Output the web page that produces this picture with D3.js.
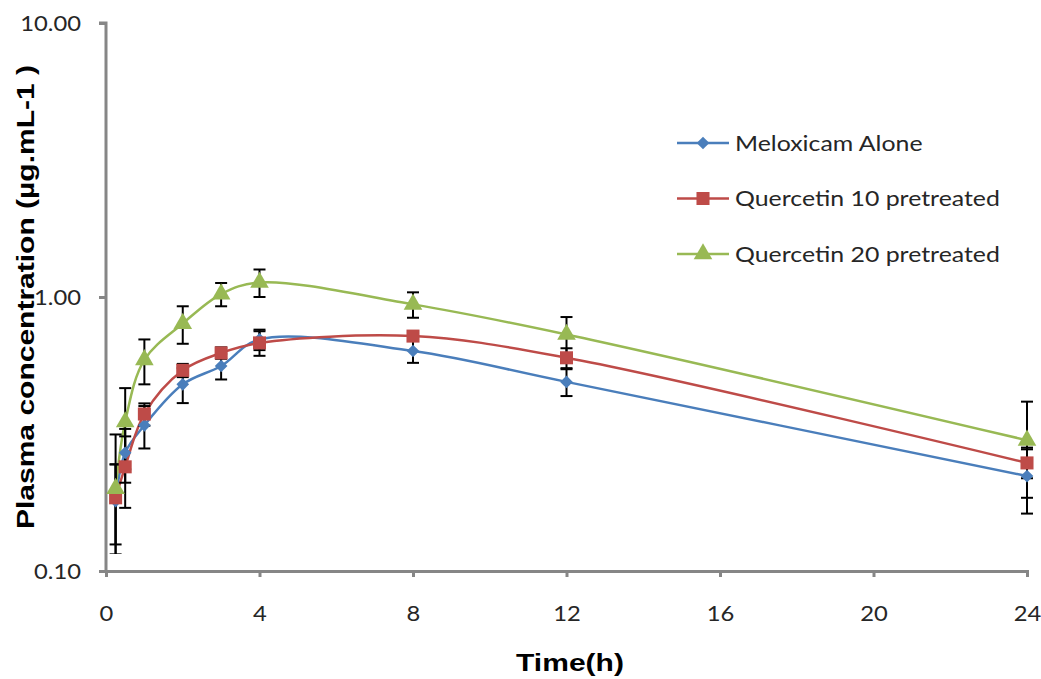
<!DOCTYPE html>
<html>
<head>
<meta charset="utf-8">
<script src="https://cdn.jsdelivr.net/npm/d3@7"></script>
<style>
  body { margin: 0; background: #fff; }
  #chart { width: 1041px; height: 679px; }
  .tick text { font-family: Lato, "Open Sans", sans-serif; font-size: 22px; fill: #262626; }
  .legend text { font-family: Lato, "Open Sans", sans-serif; font-size: 22px; fill: #262626; }
  .title { font-family: "Liberation Sans", Arial, sans-serif; font-weight: bold; font-size: 24px; fill: #000; }
</style>
</head>
<body>
<div id="chart"></div>
<script>
var times = [0.25, 0.5, 1, 2, 3, 4, 8, 12, 24];
var seriesNames = ["Meloxicam Alone", "Quercetin 10 pretreated", "Quercetin 20 pretreated"];
var meloxicam = [0.18, 0.27, 0.34, 0.48, 0.56, 0.70, 0.635, 0.49, 0.222];
var quer10 = [0.185, 0.24, 0.374, 0.54, 0.625, 0.68, 0.72, 0.60, 0.248];
var quer20 = [0.20, 0.35, 0.59, 0.80, 1.025, 1.13, 0.94, 0.73, 0.30];
var meloxicamSd = [0.065, 0.06, 0.06, 0.07, 0.06, 0.06, 0.06, 0.055, 0.06];
var quer10Sd = [0.06, 0.07, 0.035, 0.03, 0.03, 0.07, 0.02, 0.05, 0.03];
var quer20Sd = [0.115, 0.115, 0.11, 0.125, 0.10, 0.13, 0.10, 0.115, 0.115];
var xTicks = [0, 4, 8, 12, 16, 20, 24];
var yTicks = [0.1, 1, 10];
var colors = ["#4A7EBB", "#BE4B48", "#98B954"];

// square diamond like the excel marker
var squareDiamond = {
  draw: function(ctx, size) {
    var r = Math.sqrt(size / 2);
    ctx.moveTo(0, -r); ctx.lineTo(r, 0); ctx.lineTo(0, r); ctx.lineTo(-r, 0); ctx.closePath();
  }
};
var shapes = [squareDiamond, d3.symbolSquare, d3.symbolTriangle];
var symSizes = [80, 170, 150];

var chart = document.getElementById("chart"),
    width = 1041, height = 679,
    plotLeft = 106, plotRight = 1027, plotTop = 23, plotBottom = 571;

var svg = d3.select(chart).append("svg")
  .attr("width", width)
  .attr("height", height);

var x = d3.scaleLinear().domain([0, 24]).range([plotLeft, plotRight]);
var y = d3.scaleLog().domain([0.1, 10]).range([plotBottom, plotTop]);

// stretch text horizontally, the reference font is wider
function stretch(sel, k) {
  sel.each(function() {
    var w = this.getComputedTextLength();
    d3.select(this).attr("textLength", w * k).attr("lengthAdjust", "spacingAndGlyphs");
  });
}

svg.append("defs").append("clipPath").attr("id", "clip")
  .append("rect").attr("x", plotLeft - 20).attr("y", plotTop)
  .attr("width", plotRight - plotLeft + 40).attr("height", plotBottom - plotTop - 17);

// axes
var yAxis = svg.append("g")
  .attr("transform", "translate(" + plotLeft + ",0)")
  .call(d3.axisLeft(y).tickValues(yTicks).tickFormat(d3.format(".2f")).tickSize(7).tickPadding(18));
var xAxis = svg.append("g")
  .attr("transform", "translate(0," + plotBottom + ")")
  .call(d3.axisBottom(x).tickValues(xTicks).tickSize(6).tickPadding(28));
[xAxis, yAxis].forEach(function(a) {
  a.select(".domain").attr("stroke", "#868686").attr("stroke-width", 3);
  a.selectAll(".tick line").attr("stroke", "#868686").attr("stroke-width", 3);
  stretch(a.selectAll(".tick text"), 1.08);
});
yAxis.select(".domain").attr("d", "M-7," + plotTop + "H0V" + plotBottom);

var series = [meloxicam, quer10, quer20].map(function(vals, i) {
  var sds = [meloxicamSd, quer10Sd, quer20Sd][i];
  return { name: seriesNames[i], color: colors[i], shape: shapes[i], size: symSizes[i],
    points: times.map(function(t, j) { return { t: t, v: vals[j], sd: sds[j] }; }) };
});

var line = d3.line()
  .x(function(d) { return x(d.t); })
  .y(function(d) { return y(d.v); })
  .curve(d3.curveCatmullRom.alpha(0.5));

var plot = svg.append("g");
var bars = svg.append("g").attr("clip-path", "url(#clip)");

series.forEach(function(s) {
  plot.append("path")
    .datum(s.points)
    .attr("fill", "none")
    .attr("stroke", s.color)
    .attr("stroke-width", 2.5)
    .attr("d", line);
});

// error bars
series.forEach(function(s) {
  var g = bars.append("g").attr("stroke", "#000").attr("stroke-width", 2);
  s.points.forEach(function(p) {
    var lo = Math.max(p.v - p.sd, 0.05), hi = p.v + p.sd, cx = x(p.t);
    g.append("line").attr("x1", cx).attr("x2", cx).attr("y1", y(lo)).attr("y2", y(hi));
    g.append("line").attr("x1", cx - 6).attr("x2", cx + 6).attr("y1", y(hi)).attr("y2", y(hi));
    if (p.v - p.sd > 0.1) g.append("line").attr("x1", cx - 6).attr("x2", cx + 6).attr("y1", y(lo)).attr("y2", y(lo));
  });
});

var marks = svg.append("g");
series.forEach(function(s) {
  marks.selectAll(null)
    .data(s.points)
    .enter().append("path")
    .attr("d", d3.symbol().type(s.shape).size(s.size))
    .attr("transform", function(d) { return "translate(" + x(d.t) + "," + y(d.v) + ")"; })
    .attr("fill", s.color);
});

// legend
var legend = svg.append("g").attr("class", "legend");
series.forEach(function(s, i) {
  var ly = 143 + i * 55.5;
  legend.append("line").attr("x1", 677).attr("x2", 729).attr("y1", ly).attr("y2", ly)
    .attr("stroke", s.color).attr("stroke-width", 2.5);
  legend.append("path").attr("d", d3.symbol().type(s.shape).size(s.size))
    .attr("transform", "translate(703," + ly + ")").attr("fill", s.color);
  legend.append("text").attr("x", 735).attr("y", ly).attr("dy", "0.35em").text(s.name);
});
stretch(legend.selectAll("text"), 1.13);

// titles
var xTitle = svg.append("text").attr("class", "title")
  .attr("x", 570).attr("y", 671)
  .attr("text-anchor", "middle").text("Time(h)");
var yTitle = svg.append("text").attr("class", "title")
  .attr("transform", "translate(34,297) rotate(-90)")
  .attr("text-anchor", "middle").text("Plasma concentration (µg.mL-1 )");
stretch(svg.selectAll(".title"), 1.25);
</script>
</body>
</html>
